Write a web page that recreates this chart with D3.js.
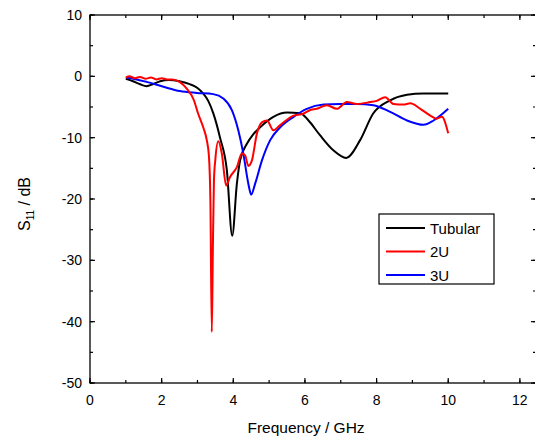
<!DOCTYPE html>
<html><head><meta charset="utf-8">
<script src="https://cdn.jsdelivr.net/npm/d3@7"></script>
<style>body{margin:0;background:#fff;}svg{display:block;font-family:"Liberation Sans",Arial,sans-serif;}</style>
</head><body>
<svg id="c" width="535" height="441"></svg>
<script>
const xTicks = [0, 2, 4, 6, 8, 10, 12];
const yTicks = [10, 0, -10, -20, -30, -40, -50];
const seriesNames = ["Tubular", "2U", "3U"];
const seriesColors = ["#000000", "#ff0000", "#0000ff"];

const tubularF = [1.0, 1.2, 1.4, 1.58, 1.75, 1.96, 2.2, 2.5, 2.8, 3.0, 3.16, 3.3, 3.44, 3.63, 3.82, 3.97, 4.1, 4.19, 4.38, 4.55, 4.75, 5.12, 5.5, 5.87, 6.1, 6.42, 6.8, 7.15, 7.54, 7.9, 8.38, 8.85, 9.3, 10.0];
const tubularDb = [-0.4, -0.8, -1.3, -1.6, -1.3, -0.8, -0.6, -0.8, -1.3, -1.9, -2.8, -4.0, -6.0, -10.0, -15.3, -26.0, -17.5, -13.7, -11.0, -9.5, -8.3, -6.6, -5.9, -6.0, -7.2, -9.6, -12.1, -13.3, -10.4, -6.1, -3.9, -3.0, -2.8, -2.8];

const u2F = [1.0, 1.1, 1.25, 1.4, 1.55, 1.7, 1.85, 2.0, 2.15, 2.3, 2.5, 2.7, 2.9, 3.02, 3.16, 3.26, 3.32, 3.36, 3.4, 3.43, 3.46, 3.5, 3.58, 3.68, 3.8, 3.91, 4.1, 4.24, 4.33, 4.42, 4.52, 4.66, 4.8, 4.94, 5.12, 5.3, 5.68, 5.95, 6.15, 6.33, 6.61, 6.89, 7.17, 7.45, 7.82, 8.0, 8.24, 8.47, 8.75, 8.94, 9.22, 9.5, 9.68, 9.82, 10.0];
const u2Db = [-0.2, 0.0, -0.3, -0.1, -0.4, -0.2, -0.5, -0.3, -0.5, -0.5, -0.9, -2.0, -3.9, -6.1, -8.3, -10.4, -13.0, -20.0, -41.7, -28.0, -17.0, -13.5, -10.6, -12.6, -17.8, -16.4, -14.8, -12.6, -12.9, -14.6, -13.7, -9.3, -7.5, -7.2, -8.8, -8.0, -6.4, -6.1, -5.5, -5.3, -4.7, -5.3, -4.2, -4.5, -4.2, -4.0, -3.4, -4.5, -4.6, -4.4, -5.3, -6.4, -6.9, -6.6, -9.3];

const u3F = [1.0, 1.3, 1.58, 2.05, 2.51, 2.98, 3.44, 3.72, 3.96, 4.14, 4.28, 4.42, 4.5, 4.61, 4.8, 5.03, 5.31, 5.68, 6.05, 6.52, 6.98, 7.45, 7.91, 8.38, 8.85, 9.31, 9.59, 10.0];
const u3Db = [-0.2, -0.5, -0.9, -1.7, -2.4, -2.7, -2.9, -3.6, -5.5, -8.8, -12.6, -17.5, -19.3, -17.5, -13.7, -10.4, -8.3, -6.6, -5.3, -4.6, -4.5, -4.5, -4.7, -5.8, -7.2, -7.9, -7.2, -5.3];

const svg = d3.select("#c");
const L = 90, T = 15, R = 536, B = 383;
const x = d3.scaleLinear().domain([0, 12.45]).range([L, R]);
const y = d3.scaleLinear().domain([-50, 10]).range([B, T]);

const g = svg.append("g");
g.append("rect").attr("x", L).attr("y", T).attr("width", R - L).attr("height", B - T)
  .attr("fill", "none").attr("stroke", "#000").attr("stroke-width", 1.3);

const xMinor = d3.range(0, 13, 1);
const yMinor = d3.range(-50, 11, 5);
function hTicks(vals, len, yy, dir) {
  g.selectAll(null).data(vals).enter().append("line")
    .attr("x1", d => x(d)).attr("x2", d => x(d))
    .attr("y1", yy).attr("y2", yy + dir * len)
    .attr("stroke", "#000").attr("stroke-width", 1.2);
}
function vTicks(vals, len, xx, dir) {
  g.selectAll(null).data(vals).enter().append("line")
    .attr("y1", d => y(d)).attr("y2", d => y(d))
    .attr("x1", xx).attr("x2", xx + dir * len)
    .attr("stroke", "#000").attr("stroke-width", 1.2);
}
hTicks(xMinor, 3, B, -1); hTicks(xTicks, 5, B, -1);
hTicks(xMinor, 3, T, 1); hTicks(xTicks, 5, T, 1);
vTicks(yMinor, 3, L, 1); vTicks(yTicks, 5, L, 1);
vTicks(yMinor, 3, R, -1); vTicks(yTicks, 5, R, -1);

g.selectAll(null).data(xTicks).enter().append("text")
  .attr("x", d => x(d)).attr("y", B + 22).attr("text-anchor", "middle")
  .attr("font-size", 14).text(d => d);
g.selectAll(null).data(yTicks).enter().append("text")
  .attr("x", L - 8).attr("y", d => y(d) + 5).attr("text-anchor", "end")
  .attr("font-size", 14).text(d => d);

svg.append("text").attr("x", 306).attr("y", 433).attr("text-anchor", "middle")
  .attr("font-size", 15.5).text("Frequency / GHz");
const yt = svg.append("text").attr("transform", "translate(30,204) rotate(-90)")
  .attr("text-anchor", "middle").attr("font-size", 16);
yt.append("tspan").text("S");
yt.append("tspan").attr("font-size", 10).attr("dy", 4).text("11");
yt.append("tspan").attr("dy", -4).text(" / dB");

const line = d3.line().x(d => x(d[0])).y(d => y(d[1])).curve(d3.curveMonotoneX);
const series = [
  d3.zip(tubularF, tubularDb),
  d3.zip(u2F, u2Db),
  d3.zip(u3F, u3Db)
];
[0, 2, 1].forEach(i => {
  g.append("path").datum(series[i]).attr("d", line)
    .attr("fill", "none").attr("stroke", seriesColors[i]).attr("stroke-width", 2)
    .attr("stroke-linejoin", "round");
});

const lg = svg.append("g");
lg.append("rect").attr("x", 379).attr("y", 214).attr("width", 115).attr("height", 70)
  .attr("fill", "#fff").attr("stroke", "#000").attr("stroke-width", 1.2);
seriesNames.forEach((n, i) => {
  const yy = 228 + i * 23.5;
  lg.append("line").attr("x1", 386).attr("x2", 425).attr("y1", yy).attr("y2", yy)
    .attr("stroke", seriesColors[i]).attr("stroke-width", 2);
  lg.append("text").attr("x", 430).attr("y", yy + 5.5).attr("font-size", 15).text(n);
});
</script>
</body></html>
